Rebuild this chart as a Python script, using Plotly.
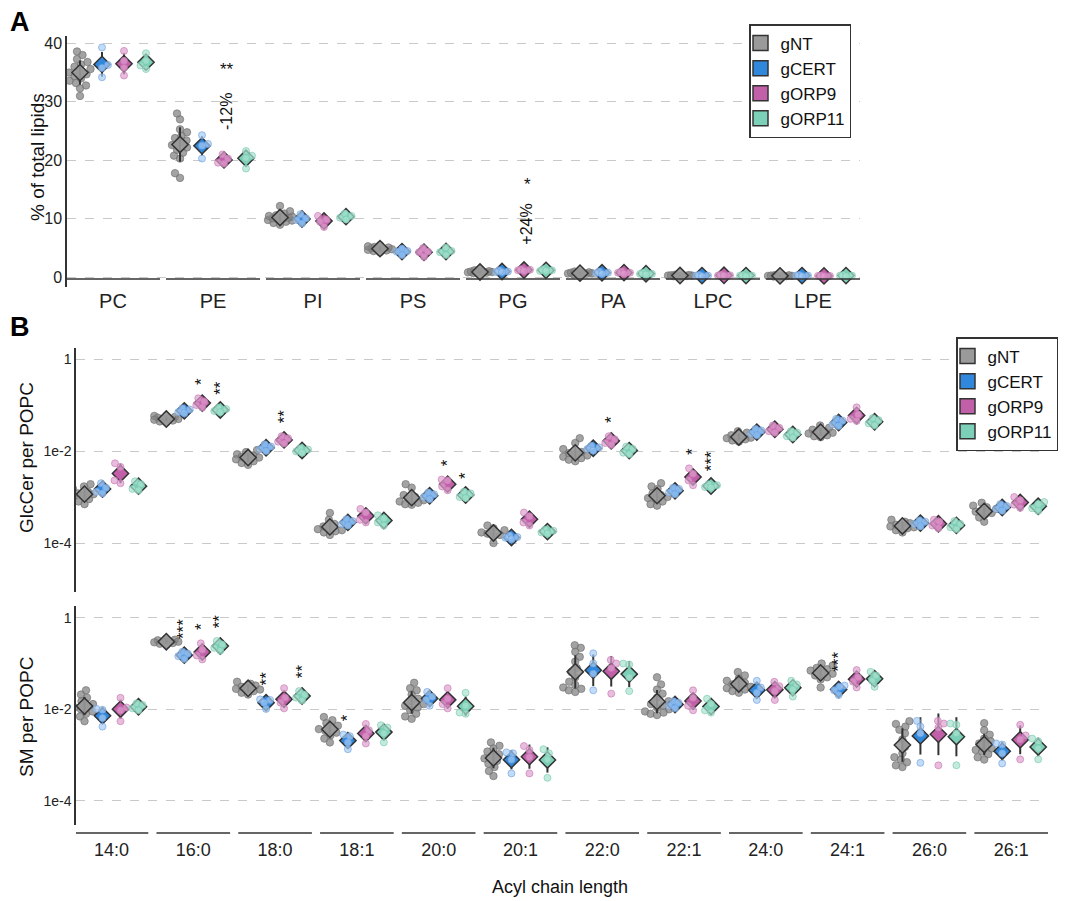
import numpy as np
import plotly.graph_objects as go

# ---------------- data ----------------
groups = ["gNT", "gCERT", "gORP9", "gORP11"]
lipid_classes = ["PC", "PE", "PI", "PS", "PG", "PA", "LPC", "LPE"]
acyl_chains = ["14:0", "16:0", "18:0", "18:1", "20:0", "20:1", "22:0", "22:1", "24:0", "24:1", "26:0", "26:1"]

# Panel A: % of total lipids (replicates per lipid class)
pct_gNT = [
    [31.0, 32.3, 32.8, 33.2, 33.6, 34.0, 34.4, 34.7, 35.0, 35.3, 35.6, 36.0, 36.4, 36.8, 37.3, 38.0, 38.6],
    [17.0, 17.8, 20.3, 20.8, 21.3, 21.8, 22.2, 22.6, 23.0, 23.4, 23.8, 24.2, 24.8, 25.3, 27.0, 28.0],
    [9.0, 9.3, 9.5, 9.7, 9.8, 9.9, 10.0, 10.1, 10.2, 10.4, 10.5, 10.6, 10.9, 11.3, 12.2],
    [4.3, 4.5, 4.6, 4.7, 4.8, 4.9, 4.9, 5.0, 5.1, 5.2, 5.3, 5.5],
    [0.6, 0.7, 0.8, 0.85, 0.9, 0.9, 0.95, 1.0, 1.05, 1.1, 1.2],
    [0.4, 0.5, 0.6, 0.65, 0.7, 0.7, 0.75, 0.8, 0.85, 0.9, 1.0],
    [0.15, 0.2, 0.25, 0.3, 0.3, 0.3, 0.35, 0.35, 0.4, 0.45],
    [0.1, 0.15, 0.2, 0.25, 0.25, 0.25, 0.3, 0.3, 0.35, 0.4],
]
pct_gCERT = [[39.3, 36.3, 35.8, 34.2], [24.3, 22.8, 22.5, 20.3], [10.8, 10.1, 9.8, 9.2], [4.9, 4.5, 4.4, 3.8],
             [1.2, 1.0, 0.9, 0.9], [1.0, 0.8, 0.7, 0.6], [0.4, 0.3, 0.3, 0.2], [0.4, 0.3, 0.3, 0.2]]
pct_gORP9 = [[38.7, 37.0, 35.8, 34.5], [21.0, 20.3, 19.6, 19.4], [10.5, 9.9, 9.5, 8.6], [5.0, 4.4, 4.3, 3.5],
             [1.4, 1.3, 1.2, 1.1], [1.0, 0.8, 0.8, 0.6], [0.45, 0.35, 0.3, 0.3], [0.3, 0.25, 0.25, 0.2]]
pct_gORP11 = [[38.3, 37.0, 36.2, 35.6], [21.6, 20.8, 20.4, 18.6], [10.9, 10.5, 10.2, 9.9], [5.1, 4.5, 4.3, 3.8],
              [1.4, 1.2, 1.1, 1.1], [0.8, 0.6, 0.6, 0.5], [0.4, 0.3, 0.3, 0.2], [0.4, 0.3, 0.3, 0.2]]

# Panel B top: GlcCer per POPC
glc_gNT = [
    [1.9e-3, 1.7e-3, 1.5e-3, 1.3e-3, 1.2e-3, 1.15e-3, 1.1e-3, 1.0e-3, 0.9e-3, 0.8e-3, 0.7e-3],
    [0.058, 0.055, 0.053, 0.052, 0.05, 0.05, 0.048, 0.046, 0.044, 0.042],
    [0.0105, 0.0095, 0.0085, 0.008, 0.0075, 0.0072, 0.007, 0.0066, 0.006, 0.0055, 0.005],
    [4.5e-4, 3.2e-4, 2.6e-4, 2.3e-4, 2.1e-4, 2.0e-4, 1.9e-4, 1.8e-4, 1.7e-4, 1.5e-4],
    [1.9e-3, 1.6e-3, 1.1e-3, 1.0e-3, 0.9e-3, 0.85e-3, 0.8e-3, 0.75e-3, 0.7e-3, 0.68e-3],
    [2.4e-4, 2.1e-4, 1.9e-4, 1.7e-4, 1.6e-4, 1.5e-4, 1.4e-4, 1.0e-4],
    [0.019, 0.015, 0.011, 0.0095, 0.009, 0.0085, 0.008, 0.0075, 0.007, 0.0065, 0.006],
    [2.0e-3, 1.7e-3, 1.5e-3, 1.2e-3, 1.1e-3, 1.0e-3, 0.95e-3, 0.9e-3, 0.8e-3, 0.7e-3, 0.65e-3],
    [0.027, 0.025, 0.022, 0.021, 0.02, 0.0195, 0.019, 0.018, 0.017, 0.016],
    [0.036, 0.032, 0.029, 0.027, 0.026, 0.025, 0.024, 0.022, 0.021, 0.02],
    [3.2e-4, 2.9e-4, 2.7e-4, 2.5e-4, 2.4e-4, 2.3e-4, 2.2e-4, 2.1e-4, 1.9e-4, 1.7e-4],
    [7.5e-4, 6.5e-4, 6.0e-4, 5.5e-4, 5.0e-4, 4.8e-4, 4.5e-4, 4.2e-4, 3.6e-4, 2.9e-4],
]
glc_gCERT = [
    [2.0e-3, 1.6e-3, 1.3e-3, 1.2e-3], [0.085, 0.08, 0.07, 0.066], [0.014, 0.0125, 0.011, 0.01],
    [3.3e-4, 3.0e-4, 2.6e-4, 2.4e-4], [1.25e-3, 1.15e-3, 1.0e-3, 0.9e-3], [1.45e-4, 1.35e-4, 1.3e-4, 1.2e-4],
    [0.013, 0.012, 0.011, 0.0102], [1.6e-3, 1.5e-3, 1.25e-3, 1.15e-3], [0.03, 0.028, 0.024, 0.022],
    [0.05, 0.046, 0.038, 0.035], [3.1e-4, 2.9e-4, 2.6e-4, 2.3e-4], [7.0e-4, 6.4e-4, 5.5e-4, 5.0e-4],
]
glc_gORP9 = [
    [5.4e-3, 4.5e-3, 2.3e-3, 2.0e-3], [0.14, 0.12, 0.10, 0.088], [0.021, 0.019, 0.016, 0.0145],
    [5.5e-4, 4.6e-4, 3.2e-4, 2.8e-4], [2.4e-3, 2.3e-3, 1.7e-3, 1.4e-3], [4.6e-4, 3.8e-4, 2.8e-4, 2.4e-4],
    [0.021, 0.018, 0.015, 0.0135], [4.2e-3, 3.2e-3, 2.3e-3, 1.8e-3], [0.036, 0.032, 0.027, 0.025],
    [0.089, 0.062, 0.05, 0.045], [3.2e-4, 2.9e-4, 2.4e-4, 2.1e-4], [1.0e-3, 8.5e-4, 6.8e-4, 5.8e-4],
]
glc_gORP11 = [
    [2.2e-3, 1.9e-3, 1.5e-3, 1.4e-3], [0.088, 0.082, 0.074, 0.07], [0.0115, 0.0108, 0.0098, 0.0092],
    [4.0e-4, 3.4e-4, 2.8e-4, 2.4e-4], [1.3e-3, 1.2e-3, 1.0e-3, 0.95e-3], [1.95e-4, 1.85e-4, 1.7e-4, 1.6e-4],
    [0.0125, 0.0112, 0.0092, 0.0085], [1.9e-3, 1.8e-3, 1.65e-3, 1.6e-3], [0.027, 0.025, 0.021, 0.0195],
    [0.052, 0.047, 0.04, 0.036], [3.0e-4, 2.6e-4, 2.2e-4, 2.0e-4], [7.8e-4, 7.0e-4, 5.7e-4, 5.0e-4],
]

# Panel B bottom: SM per POPC
sm_gNT = [
    [0.026, 0.021, 0.018, 0.015, 0.013, 0.012, 0.011, 0.01, 0.009, 0.008, 0.007, 0.0055],
    [0.34, 0.33, 0.32, 0.31, 0.30, 0.30, 0.29, 0.28, 0.27, 0.26],
    [0.04, 0.036, 0.033, 0.031, 0.029, 0.028, 0.027, 0.025, 0.023, 0.021],
    [6.8e-3, 5.8e-3, 5.0e-3, 4.4e-3, 4.0e-3, 3.7e-3, 3.4e-3, 3.1e-3, 2.7e-3, 2.3e-3, 1.9e-3],
    [0.038, 0.029, 0.026, 0.021, 0.017, 0.015, 0.013, 0.012, 0.011, 0.0095, 0.008, 0.007, 0.0062],
    [1.9e-3, 1.6e-3, 1.4e-3, 1.2e-3, 1.05e-3, 0.95e-3, 0.85e-3, 0.75e-3, 0.65e-3, 0.55e-3, 0.45e-3, 0.35e-3],
    [0.25, 0.22, 0.18, 0.14, 0.11, 0.08, 0.065, 0.05, 0.04, 0.034, 0.03, 0.028, 0.026, 0.024],
    [0.05, 0.035, 0.027, 0.022, 0.018, 0.015, 0.013, 0.012, 0.011, 0.01, 0.009, 0.0085, 0.008, 0.0075],
    [0.065, 0.055, 0.047, 0.042, 0.038, 0.035, 0.033, 0.031, 0.029, 0.027, 0.025, 0.023],
    [0.1, 0.09, 0.08, 0.075, 0.07, 0.065, 0.06, 0.055, 0.05, 0.045, 0.03],
    [5.5e-3, 4.8e-3, 4.2e-3, 3.6e-3, 3.0e-3, 2.2e-3, 1.5e-3, 1.1e-3, 0.9e-3, 0.8e-3, 0.7e-3, 0.6e-3, 0.55e-3],
    [5.0e-3, 3.5e-3, 2.8e-3, 2.3e-3, 2.0e-3, 1.8e-3, 1.6e-3, 1.4e-3, 1.3e-3, 1.2e-3, 1.05e-3, 0.9e-3, 0.8e-3],
]
sm_gCERT = [
    [0.0102, 0.0098, 0.0065, 0.0042], [0.18, 0.165, 0.145, 0.125], [0.0165, 0.016, 0.014, 0.0102],
    [2.8e-3, 2.6e-3, 1.9e-3, 1.35e-3], [0.024, 0.019, 0.016, 0.012], [1.15e-3, 1.1e-3, 0.8e-3, 0.4e-3],
    [0.167, 0.1, 0.06, 0.026], [0.015, 0.014, 0.012, 0.0105], [0.042, 0.03, 0.023, 0.016],
    [0.033, 0.031, 0.026, 0.0205], [5.6e-3, 4.2e-3, 3.0e-3, 0.68e-3], [1.8e-3, 1.7e-3, 1.1e-3, 0.66e-3],
]
sm_gORP9 = [
    [0.0178, 0.011, 0.0095, 0.0055], [0.276, 0.2, 0.15, 0.123], [0.029, 0.018, 0.014, 0.0105],
    [4.8e-3, 3.5e-3, 2.6e-3, 1.8e-3], [0.029, 0.017, 0.013, 0.0105], [1.58e-3, 1.3e-3, 0.9e-3, 0.4e-3],
    [0.12, 0.1, 0.08, 0.022], [0.026, 0.018, 0.012, 0.0095], [0.04, 0.032, 0.025, 0.016],
    [0.072, 0.05, 0.04, 0.03], [5.6e-3, 4.9e-3, 4.0e-3, 0.6e-3], [4.6e-3, 2.7e-3, 2.2e-3, 0.81e-3],
]
sm_gORP11 = [
    [0.0135, 0.0125, 0.0105, 0.0095], [0.31, 0.26, 0.22, 0.19], [0.025, 0.021, 0.018, 0.0155],
    [4.5e-3, 4.0e-3, 3.0e-3, 1.9e-3], [0.023, 0.012, 0.0085, 0.008], [1.35e-3, 1.1e-3, 0.8e-3, 0.32e-3],
    [0.1, 0.095, 0.05, 0.025], [0.017, 0.013, 0.0095, 0.0085], [0.042, 0.035, 0.027, 0.019],
    [0.066, 0.055, 0.042, 0.031], [4.9e-3, 4.6e-3, 3.0e-3, 0.6e-3], [2.3e-3, 2.0e-3, 1.4e-3, 0.81e-3],
]

# significance labels
signif_A = [("PE", "gORP9", "**", "-12%"), ("PG", "gORP9", "*", "+24%")]
signif_glc = [("16:0", "gORP9", "*"), ("16:0", "gORP11", "**"), ("18:0", "gORP9", "**"),
              ("20:0", "gORP9", "*"), ("20:0", "gORP11", "*"), ("22:0", "gORP9", "*"),
              ("22:1", "gORP9", "*"), ("22:1", "gORP11", "***")]
signif_sm = [("16:0", "gCERT", "***"), ("16:0", "gORP9", "*"), ("16:0", "gORP11", "**"),
             ("18:0", "gCERT", "**"), ("18:0", "gORP11", "**"), ("18:1", "gCERT", "*"),
             ("24:1", "gCERT", "***")]

# ---------------- styling ----------------
W, H = 1066, 901
FONT = "Liberation Sans, Arial, sans-serif"
mean_fill = {"gNT": "rgba(153,153,153,0.9)", "gCERT": "#3088dd", "gORP9": "#c25fa9", "gORP11": "#7dd0b8"}
legend_fill = {"gNT": "#9a9a9a", "gCERT": "#3088dd", "gORP9": "#c25fa9", "gORP11": "#7dd0b8"}
pt_fill = {"gNT": "rgba(132,132,132,0.75)", "gCERT": "rgba(168,204,242,0.7)",
           "gORP9": "rgba(222,160,206,0.7)", "gORP11": "rgba(168,226,207,0.7)"}
pt_edge = {"gNT": "rgba(112,112,112,0.8)", "gCERT": "rgba(110,160,225,0.8)",
           "gORP9": "rgba(200,120,180,0.8)", "gORP11": "rgba(120,200,175,0.8)"}
pt_size = {"gNT": 7.5, "gCERT": 7.0, "gORP9": 7.0, "gORP11": 7.0}
swarm_width = {"gNT": 12.0, "gCERT": 6.0, "gORP9": 6.0, "gORP11": 6.0}  # max half-width, px
points_on_top = {"gNT": False, "gCERT": True, "gORP9": True, "gORP11": True}
DODGE = 0.22


def px2x(p):
    return p / W


def px2y(p):
    return 1 - p / H


panels = {
    "A": dict(xa="x", ya="y", cats=lipid_classes, log=False,
              data=[pct_gNT, pct_gCERT, pct_gORP9, pct_gORP11],
              xpx=(67, 860), ypx=(36, 287), xr=(-0.46, 7.47), yr=(-1.65, 41.25), msize=12.5),
    "Bt": dict(xa="x2", ya="y2", cats=acyl_chains, log=True,
               data=[glc_gNT, glc_gCERT, glc_gORP9, glc_gORP11],
               xpx=(76, 1048), ypx=(348, 592), xr=(-0.434, 11.45), yr=(-5.065, 0.24), msize=12.5),
    "Bb": dict(xa="x3", ya="y3", cats=acyl_chains, log=True,
               data=[sm_gNT, sm_gCERT, sm_gORP9, sm_gORP11],
               xpx=(76, 1048), ypx=(606, 825), xr=(-0.434, 11.45), yr=(-4.524, 0.255), msize=12.5),
}


def swarm_offsets(vals, log, xppu, yppu, maxw, diam=6.5):
    v = np.log10(np.asarray(vals, float)) if log else np.asarray(vals, float)
    ypx = v * yppu
    order = np.argsort(ypx)
    placed = []
    xo = np.zeros(len(v))
    for n, i in enumerate(order):
        best, fallback, fscore = None, 0.0, -1.0
        for k in range(0, int(maxw * 2) + 1):
            if k == 0:
                cands = [0.0]
            else:
                cands = [k * 0.5, -k * 0.5] if n % 2 == 0 else [-k * 0.5, k * 0.5]
            for c in cands:
                dmin = min([np.hypot(c - px, ypx[i] - py) for px, py in placed], default=1e9)
                if dmin >= diam:
                    best = c
                    break
                if dmin > fscore:
                    fscore, fallback = dmin, c
            if best is not None:
                break
        if best is None:
            best = fallback
        placed.append((best, ypx[i]))
        xo[i] = best / xppu
    return xo


fig = go.Figure()
annotations = []
shapes = []
tops = {}

for key, P in panels.items():
    xppu = (P["xpx"][1] - P["xpx"][0]) / (P["xr"][1] - P["xr"][0])
    yppu = (P["ypx"][1] - P["ypx"][0]) / (P["yr"][1] - P["yr"][0])
    for gi, g in enumerate(groups):
        series = P["data"][gi]
        off = (gi - 1.5) * DODGE
        px_, py_ = [], []
        ex, ey = [], []
        mx, my = [], []
        for ci, vals in enumerate(series):
            xo = swarm_offsets(vals, P["log"], xppu, yppu, swarm_width[g])
            px_ += list(ci + off + xo)
            py_ += list(vals)
            arr = np.log10(vals) if P["log"] else np.asarray(vals, float)
            m, s = arr.mean(), arr.std(ddof=1)
            lo, hi, mm = m - s, m + s, m
            if P["log"]:
                lo, hi, mm = 10 ** lo, 10 ** hi, 10 ** mm
            ex += [ci + off, ci + off, None]
            ey += [lo, hi, None]
            mx.append(ci + off)
            my.append(mm)
            tops[(key, P["cats"][ci], g)] = max(max(vals), hi)
        pts = go.Scatter(x=px_, y=py_, mode="markers", xaxis=P["xa"], yaxis=P["ya"],
                         marker=dict(symbol="circle", size=pt_size[g], color=pt_fill[g],
                                     line=dict(color=pt_edge[g], width=0.8)),
                         showlegend=False, hoverinfo="skip")
        err = go.Scatter(x=ex, y=ey, mode="lines", xaxis=P["xa"], yaxis=P["ya"],
                         line=dict(color="#333333", width=2), showlegend=False, hoverinfo="skip")
        dia = go.Scatter(x=mx, y=my, mode="markers", xaxis=P["xa"], yaxis=P["ya"],
                         marker=dict(symbol="diamond", size=P["msize"], color=mean_fill[g],
                                     line=dict(color="#333333", width=1.5)),
                         showlegend=False, hoverinfo="skip")
        order = [err, dia, pts] if points_on_top[g] else [pts, err, dia]
        for tr in order:
            fig.add_trace(tr)

# legend entries
for lg, xa, ya in [("legend", "x", "y"), ("legend2", "x2", "y2")]:
    for g in groups:
        fig.add_trace(go.Scatter(x=[None], y=[None], mode="markers", xaxis=xa, yaxis=ya, name=g,
                                 legend=lg,
                                 marker=dict(symbol="square", size=15, color=legend_fill[g],
                                             line=dict(color="#333333", width=1.5))))

# significance annotations
for cat, g, stars, pct in signif_A:
    ci = lipid_classes.index(cat)
    xg = ci + (groups.index(g) - 1.5) * DODGE + 0.03
    top = tops[("A", cat, g)]
    annotations.append(dict(x=xg, y=top, xref="x", yref="y", text=pct, textangle=-90, showarrow=False,
                            xanchor="center", yanchor="bottom", yshift=22, font=dict(size=16, color="#111")))
    annotations.append(dict(x=xg, y=top, xref="x", yref="y", text=stars, showarrow=False,
                            xanchor="center", yanchor="bottom", yshift=73, font=dict(size=17, color="#111")))
for key, lst in [("Bt", signif_glc), ("Bb", signif_sm)]:
    P = panels[key]
    for cat, g, stars in lst:
        ci = acyl_chains.index(cat)
        xg = ci + (groups.index(g) - 1.5) * DODGE
        top = tops[(key, cat, g)]
        annotations.append(dict(x=xg, y=np.log10(top), xref=P["xa"], yref=P["ya"], text=stars,
                                textangle=-90, showarrow=False, xanchor="center", yanchor="bottom",
                                yshift=11, font=dict(size=17, color="#111")))

# capped x-axis segments
for ci in range(len(lipid_classes)):
    shapes.append(dict(type="line", xref="x", yref="paper", x0=ci - 0.47, x1=ci + 0.47,
                       y0=px2y(279), y1=px2y(279), line=dict(color="#333333", width=1.5)))
for ci in range(len(acyl_chains)):
    shapes.append(dict(type="line", xref="x3", yref="paper", x0=ci - 0.45, x1=ci + 0.45,
                       y0=px2y(833), y1=px2y(833), line=dict(color="#333333", width=1.5)))


# axis titles and panel letters
def paper_text(x, y, text, size, angle=0, color="#111"):
    return dict(x=px2x(x), y=px2y(y), xref="paper", yref="paper", text=text, textangle=angle,
                xanchor="center", yanchor="middle", showarrow=False, font=dict(size=size, color=color))


annotations += [
    paper_text(37, 157, "% of total lipids", 19, -90),
    paper_text(26, 458, "GlcCer per POPC", 19, -90),
    paper_text(26, 717, "SM per POPC", 19, -90),
    paper_text(560, 887, "Acyl chain length", 18),
    paper_text(20, 22, "<b>A</b>", 27, 0, "#000"),
    paper_text(20, 327, "<b>B</b>", 27, 0, "#000"),
]


def yaxis_style(P, **kw):
    d = dict(domain=[px2y(P["ypx"][1]), px2y(P["ypx"][0])], range=list(P["yr"]),
             showline=True, linecolor="#333333", linewidth=1.5, ticks="",
             showgrid=True, gridcolor="#c9c9c9", griddash="dash", gridwidth=1.2,
             zeroline=False, color="#222")
    d.update(kw)
    return d


def xaxis_style(P, **kw):
    d = dict(domain=[px2x(P["xpx"][0]), px2x(P["xpx"][1])], range=list(P["xr"]),
             showline=False, showgrid=False, zeroline=False, ticks="",
             tickvals=list(range(len(P["cats"]))), ticktext=P["cats"], color="#222")
    d.update(kw)
    return d


legend_common = dict(xanchor="left", yanchor="top", bgcolor="white", bordercolor="#333333", borderwidth=1.5,
                     font=dict(size=17, color="#111"), tracegroupgap=0, indentation=-10)

fig.update_layout(
    width=W, height=H, margin=dict(l=0, r=0, t=0, b=0),
    paper_bgcolor="white", plot_bgcolor="white",
    font=dict(family=FONT, color="#222"),
    xaxis=xaxis_style(panels["A"], tickfont=dict(size=20), anchor="y"),
    yaxis=yaxis_style(panels["A"], tickvals=[0, 10, 20, 30, 40], tickfont=dict(size=16), anchor="x"),
    xaxis2=xaxis_style(panels["Bt"], showticklabels=False, anchor="y2"),
    yaxis2=yaxis_style(panels["Bt"], type="log", tickvals=[1e-4, 1e-2, 1], ticktext=["1e-4", "1e-2", "1"],
                       tickfont=dict(size=14), anchor="x2"),
    xaxis3=xaxis_style(panels["Bb"], tickfont=dict(size=18), anchor="y3", ticklabelstandoff=12),
    yaxis3=yaxis_style(panels["Bb"], type="log", tickvals=[1e-4, 1e-2, 1], ticktext=["1e-4", "1e-2", "1"],
                       tickfont=dict(size=14), anchor="x3"),
    legend=dict(x=px2x(749), y=px2y(24), **legend_common),
    legend2=dict(x=px2x(956), y=px2y(337), **legend_common),
    annotations=annotations, shapes=shapes,
)

fig.write_html("out.html", config={"displayModeBar": False},
               post_script="document.body.style.margin='0px';")
